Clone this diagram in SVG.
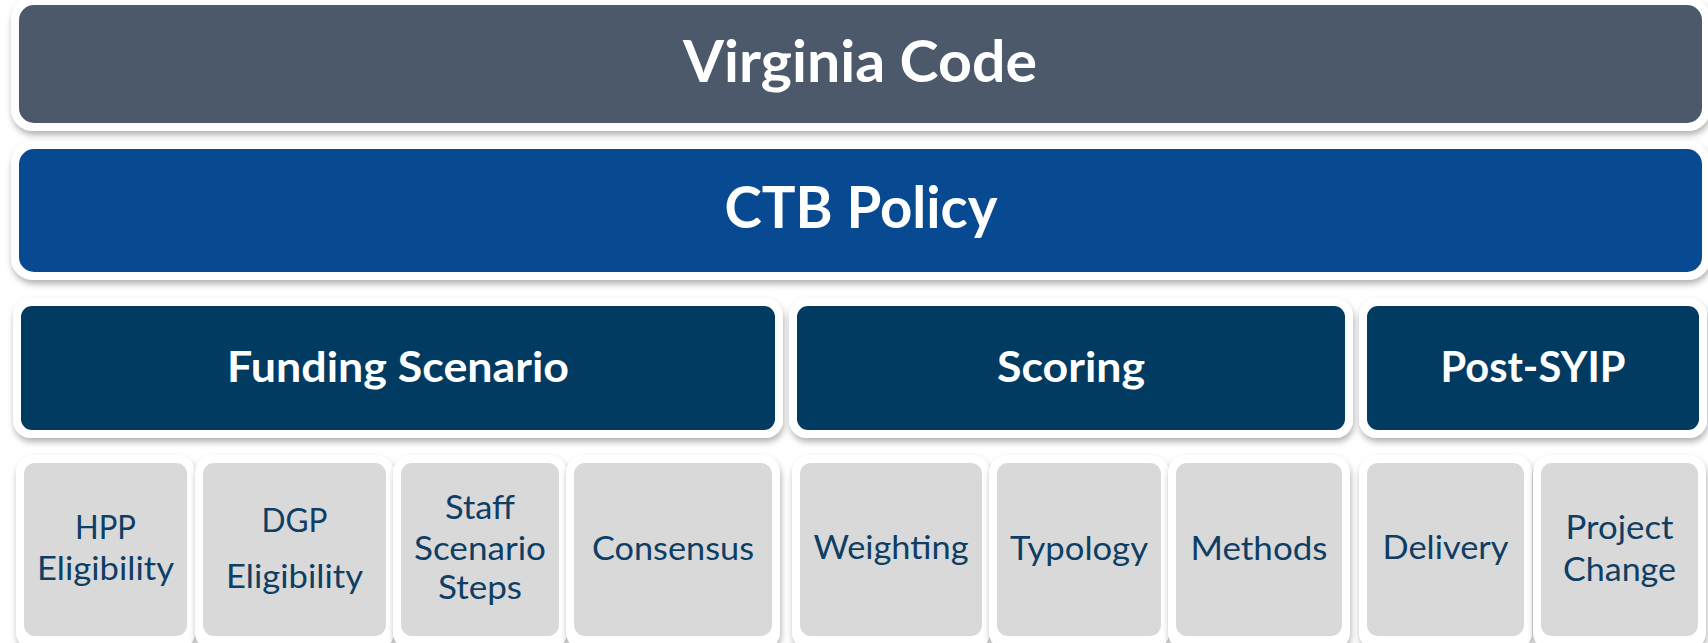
<svg xmlns="http://www.w3.org/2000/svg" width="1708" height="643" viewBox="0 0 1708 643">
<style>
  .frame { fill: #ffffff; filter: url(#shadow); }
  .code { fill: #4B596B; }
  .ctb { fill: #084A91; }
  .cat { fill: #013B61; }
  .item { fill: #D9D9D9; }
  .big { font-family: Lato, "Open Sans", "Liberation Sans", sans-serif; font-weight: 700; font-size: 57px; fill: #ffffff; text-anchor: middle; }
  .mid { font-family: Lato, "Open Sans", "Liberation Sans", sans-serif; font-weight: 700; font-size: 42px; fill: #ffffff; text-anchor: middle; }
  .small { font-family: Lato, "Open Sans", "Liberation Sans", sans-serif; font-weight: 400; font-size: 33px; fill: #0E3E64; text-anchor: middle; }
</style>
<defs>
  <filter id="shadow" x="-5%" y="-10%" width="110%" height="130%">
    <feDropShadow dx="1" dy="4" stdDeviation="3" flood-color="#000000" flood-opacity="0.3"/>
  </filter>
</defs>
<rect width="1708" height="643" fill="#ffffff"/>

<g id="virginia-code">
  <rect class="frame" x="11" y="-3" width="1699" height="134" rx="22"/>
  <rect class="code" x="19" y="5" width="1683" height="118" rx="15"/>
  <text class="big" x="860" y="82" textLength="354" lengthAdjust="spacingAndGlyphs">Virginia Code</text>
</g>

<g id="ctb-policy">
  <rect class="frame" x="11" y="141" width="1699" height="139" rx="22"/>
  <rect class="ctb" x="19" y="149" width="1683" height="123" rx="15"/>
  <text class="big" x="861" y="228" textLength="273" lengthAdjust="spacingAndGlyphs">CTB Policy</text>
</g>

<g id="funding-scenario">
  <rect class="frame" x="13" y="298" width="770" height="140" rx="18"/>
  <rect class="cat" x="21" y="306" width="754" height="124" rx="11"/>
  <text class="mid" x="398" y="382" textLength="342" lengthAdjust="spacingAndGlyphs">Funding Scenario</text>
</g>

<g id="scoring">
  <rect class="frame" x="789" y="298" width="564" height="140" rx="18"/>
  <rect class="cat" x="797" y="306" width="548" height="124" rx="11"/>
  <text class="mid" x="1071" y="382" textLength="148" lengthAdjust="spacingAndGlyphs">Scoring</text>
</g>

<g id="post-syip">
  <rect class="frame" x="1359" y="298" width="348" height="140" rx="18"/>
  <rect class="cat" x="1367" y="306" width="332" height="124" rx="11"/>
  <text class="mid" x="1533" y="382" textLength="185" lengthAdjust="spacingAndGlyphs">Post-SYIP</text>
</g>

<g id="hpp-eligibility">
  <rect class="frame" x="16" y="455" width="179" height="195" rx="18"/>
  <rect class="item" x="24" y="463" width="163" height="173" rx="11"/>
  <text class="small" x="105.5" y="539" textLength="61" lengthAdjust="spacingAndGlyphs">HPP</text>
  <text class="small" x="105.5" y="580" textLength="137" lengthAdjust="spacingAndGlyphs">Eligibility</text>
</g>

<g id="dgp-eligibility">
  <rect class="frame" x="195" y="455" width="199" height="195" rx="18"/>
  <rect class="item" x="203" y="463" width="183" height="173" rx="11"/>
  <text class="small" x="294.5" y="532" textLength="66" lengthAdjust="spacingAndGlyphs">DGP</text>
  <text class="small" x="294.5" y="588" textLength="137" lengthAdjust="spacingAndGlyphs">Eligibility</text>
</g>

<g id="staff-scenario-steps">
  <rect class="frame" x="393" y="455" width="174" height="195" rx="18"/>
  <rect class="item" x="401" y="463" width="158" height="173" rx="11"/>
  <text class="small" x="480" y="519" textLength="70" lengthAdjust="spacingAndGlyphs">Staff</text>
  <text class="small" x="480" y="560" textLength="132" lengthAdjust="spacingAndGlyphs">Scenario</text>
  <text class="small" x="480" y="599" textLength="84" lengthAdjust="spacingAndGlyphs">Steps</text>
</g>

<g id="consensus">
  <rect class="frame" x="566" y="455" width="214" height="195" rx="18"/>
  <rect class="item" x="574" y="463" width="198" height="173" rx="11"/>
  <text class="small" x="673" y="560" textLength="162" lengthAdjust="spacingAndGlyphs">Consensus</text>
</g>

<g id="weighting">
  <rect class="frame" x="792" y="455" width="198" height="195" rx="18"/>
  <rect class="item" x="800" y="463" width="182" height="173" rx="11"/>
  <text class="small" x="891" y="559" textLength="155" lengthAdjust="spacingAndGlyphs">Weighting</text>
</g>

<g id="typology">
  <rect class="frame" x="989" y="455" width="180" height="195" rx="18"/>
  <rect class="item" x="997" y="463" width="164" height="173" rx="11"/>
  <text class="small" x="1079" y="560" textLength="138" lengthAdjust="spacingAndGlyphs">Typology</text>
</g>

<g id="methods">
  <rect class="frame" x="1168" y="455" width="182" height="195" rx="18"/>
  <rect class="item" x="1176" y="463" width="166" height="173" rx="11"/>
  <text class="small" x="1259" y="560" textLength="137" lengthAdjust="spacingAndGlyphs">Methods</text>
</g>

<g id="delivery">
  <rect class="frame" x="1359" y="455" width="173" height="195" rx="18"/>
  <rect class="item" x="1367" y="463" width="157" height="173" rx="11"/>
  <text class="small" x="1445.5" y="559" textLength="126" lengthAdjust="spacingAndGlyphs">Delivery</text>
</g>

<g id="project-change">
  <rect class="frame" x="1533" y="455" width="173" height="195" rx="18"/>
  <rect class="item" x="1541" y="463" width="157" height="173" rx="11"/>
  <text class="small" x="1619.5" y="539" textLength="108" lengthAdjust="spacingAndGlyphs">Project</text>
  <text class="small" x="1619.5" y="581" textLength="113" lengthAdjust="spacingAndGlyphs">Change</text>
</g>

<g id="connectors"/>
</svg>
